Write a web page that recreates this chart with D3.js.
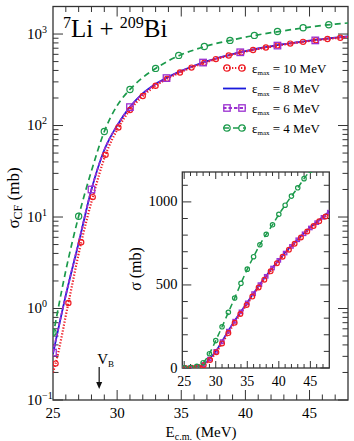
<!DOCTYPE html>
<html>
<head>
<meta charset="utf-8">
<script src="https://cdn.jsdelivr.net/npm/d3@7"></script>
<style>
body { margin: 0; background: #fff; }
svg { display: block; }
</style>
</head>
<body>
<div id="chart"></div>
<script>
// eps_max = 10 MeV : red dotted line, circles on every point but the ends
const red10E = [25.0, 25.2, 26.2, 27.2, 28.1, 29.1, 30.1, 31.0, 32.0, 33.0, 33.9, 34.9, 35.8, 36.8, 37.7, 38.7, 39.7, 40.6, 41.6, 42.5, 43.5, 44.5, 45.5, 46.4, 47.4, 48.0];
const red10S = [0.20, 0.25, 1.15, 5.3, 16.5, 48, 95, 148, 210, 272, 325, 380, 430, 485, 532, 582, 630, 670, 712, 748, 786, 822, 855, 883, 912, 928];

// energy grid shared by the other three curves
const gridE = [25, 26, 27, 28, 29, 30, 31, 32, 33, 34, 35, 36, 37, 38, 39, 40, 41, 42, 43, 44, 45, 46, 47, 48];
// eps_max = 8 MeV : blue solid
const blue8S = [0.32, 1.4, 5.2, 20, 54, 100, 160, 225, 285, 340, 395, 450, 505, 555, 605, 650, 695, 735, 775, 812, 848, 880, 912, 942];
// eps_max = 6 MeV : purple dashed, squares
const purple6S = [0.33, 1.4, 5.3, 20, 54, 100, 159, 222, 282, 338, 392, 448, 502, 552, 602, 648, 692, 732, 772, 808, 843, 875, 907, 938];
const purple6MarkE = [25, 28, 31, 33.85, 36.7, 39.6, 42.5, 45.45];
const purple6MarkS = [0.33, 20, 159, 330, 488, 632, 748, 852];
// eps_max = 4 MeV : green dashed, circles
const green4S = [0.5, 2.6, 10.2, 32, 86, 165, 248, 335, 421, 510, 595, 670, 742, 805, 862, 925, 980, 1035, 1085, 1140, 1190, 1240, 1285, 1320];
const green4MarkE = [25, 27, 29, 31, 33, 34.8, 36.8, 38.8, 40.7, 42.5, 44.5, 46.5];
const green4MarkS = [0.55, 10.2, 86, 248, 421, 584, 732, 852, 966, 1067, 1170, 1265];

const legendEps = ["10", "8", "6", "4"];
const xTickLabels = [25, 30, 35, 40, 45];
const yLogTicks = [0.1, 1, 10, 100, 1000];
const yLogExp = ["-1", "0", "1", "2", "3"];
const insetYTicks = [0, 500, 1000];
const barrierE = 28.6;

const W = 354, H = 441;
const RED = "#ee1c24", BLUE = "#1a1adc", PURPLE = "#9b30d0", GREEN = "#1c9a4c", AXIS = "#333";
const FONT = "'Liberation Serif', 'Times New Roman', serif";

const svg = d3.select("#chart").append("svg")
    .attr("width", W).attr("height", H)
    .attr("font-family", FONT);

const zip = (a, b) => a.map((v, i) => [v, b[i]]);

// ---------- main panel ----------
const x = d3.scaleLinear().domain([25, 48]).range([53, 348]);
const y = d3.scaleLog().domain([0.1, 2000]).range([400, 6.5]);

svg.append("clipPath").attr("id", "clipMain").append("rect")
    .attr("x", 53).attr("y", 6.5).attr("width", 295).attr("height", 393.5);

function ticksFrame(g, xs, ys, xMajor, xMinor, yMajor, yMinor, len) {
    const [x0, x1] = xs.range(), [y0, y1] = ys.range();
    const t = g.append("g").attr("stroke", AXIS).attr("stroke-width", 1);
    xMinor.forEach(v => {
        const L = xMajor.includes(v) ? len.xMaj : len.xMin;
        t.append("line").attr("x1", xs(v)).attr("x2", xs(v)).attr("y1", y0).attr("y2", y0 - L);
        t.append("line").attr("x1", xs(v)).attr("x2", xs(v)).attr("y1", y1).attr("y2", y1 + L);
    });
    yMinor.forEach(v => {
        const L = yMajor.includes(v) ? len.yMaj : len.yMin;
        t.append("line").attr("y1", ys(v)).attr("y2", ys(v)).attr("x1", x0).attr("x2", x0 + L);
        t.append("line").attr("y1", ys(v)).attr("y2", ys(v)).attr("x1", x1).attr("x2", x1 - L);
    });
    g.append("rect").attr("x", x0).attr("y", y1).attr("width", x1 - x0).attr("height", y0 - y1)
        .attr("fill", "none").attr("stroke", AXIS).attr("stroke-width", 1.3);
}

const mainMinorX = d3.range(26, 48);
const mainMinorY = [];
yLogTicks.forEach(d => d3.range(1, 10).forEach(k => { if (d * k <= 2000) mainMinorY.push(d * k); }));

const gMain = svg.append("g");
ticksFrame(gMain, x, y, xTickLabels, mainMinorX, yLogTicks, mainMinorY,
    {xMaj: 10, xMin: 5.5, yMaj: 10, yMin: 5.5});

const line = (xs, ys) => d3.line().x(d => xs(d[0])).y(d => ys(d[1])).curve(d3.curveMonotoneX);

const series = [
    {name: "blue", data: zip(gridE, blue8S), color: BLUE, dash: null, width: 1.8},
    {name: "purple", data: zip(gridE, purple6S), color: PURPLE, dash: "3.5,2", width: 1.8},
    {name: "red", data: zip(red10E, red10S), color: RED, dash: "1.3,1.7", width: 2.2},
    {name: "green", data: zip(gridE, green4S), color: GREEN, dash: "6,4", width: 1.7}
];

const curves = gMain.append("g").attr("clip-path", "url(#clipMain)");
series.forEach(s => {
    curves.append("path").datum(s.data)
        .attr("fill", "none").attr("stroke", s.color).attr("stroke-width", s.width)
        .attr("stroke-dasharray", s.dash)
        .attr("d", line(x, y));
});

function circles(g, pts, xs, ys, r, color) {
    g.selectAll(null).data(pts).join("circle")
        .attr("cx", d => xs(d[0])).attr("cy", d => ys(d[1])).attr("r", r)
        .attr("fill", "none").attr("stroke", color).attr("stroke-width", 1.2);
}
function squares(g, pts, xs, ys, s, color) {
    g.selectAll(null).data(pts).join("rect")
        .attr("x", d => xs(d[0]) - s / 2).attr("y", d => ys(d[1]) - s / 2)
        .attr("width", s).attr("height", s)
        .attr("fill", "none").attr("stroke", color).attr("stroke-width", 1.3);
}

circles(curves.append("g"), zip(red10E, red10S).slice(1, -1), x, y, 2.6, RED);
squares(curves.append("g"), zip(purple6MarkE, purple6MarkS), x, y, 6.5, PURPLE);
circles(curves.append("g"), zip(green4MarkE, green4MarkS), x, y, 3.1, GREEN);

// tick labels
xTickLabels.forEach(v => {
    gMain.append("text").attr("x", x(v)).attr("y", 418).attr("text-anchor", "middle")
        .attr("font-size", 15).text(v);
});
yLogTicks.forEach((v, i) => {
    const t = gMain.append("text").attr("x", 27).attr("y", y(v) + 4.5).attr("font-size", 15);
    t.append("tspan").text("10");
    t.append("tspan").attr("dy", -6).attr("font-size", 10).text(yLogExp[i].replace("-", "\u2212"));
});

// axis titles
const xt = svg.append("text").attr("x", 201).attr("y", 437).attr("text-anchor", "middle").attr("font-size", 15);
xt.append("tspan").text("E");
xt.append("tspan").attr("dy", 3).attr("font-size", 10).text("c.m.");
xt.append("tspan").attr("dy", -3).text(" (MeV)");

const yt = svg.append("text").attr("transform", "translate(19,198) rotate(-90)")
    .attr("text-anchor", "middle").attr("font-size", 17);
yt.append("tspan").text("\u03c3");
yt.append("tspan").attr("dy", 3).attr("font-size", 12).text("CF");
yt.append("tspan").attr("dy", -3).text(" (mb)");

// title
const title = svg.append("text").attr("x", 63).attr("y", 37).attr("font-size", 25);
title.append("tspan").attr("dy", -9).attr("font-size", 16).text("7");
title.append("tspan").attr("dy", 9).text("Li + ");
title.append("tspan").attr("dy", -9).attr("font-size", 16).text("209");
title.append("tspan").attr("dy", 9).text("Bi");

// barrier arrow
const vb = svg.append("g");
vb.append("line").attr("x1", x(barrierE)).attr("x2", x(barrierE)).attr("y1", 367).attr("y2", 383)
    .attr("stroke", "#111").attr("stroke-width", 1.2);
vb.append("path").attr("d", `M${x(barrierE) - 3},382 L${x(barrierE) + 3},382 L${x(barrierE)},389 Z`).attr("fill", "#111");
const vbt = vb.append("text").attr("x", x(barrierE) - 2).attr("y", 364).attr("font-size", 15);
vbt.append("tspan").text("V");
vbt.append("tspan").attr("dy", 3).attr("font-size", 9).text("B");

// legend
const legRows = [
    {color: RED, dash: "1.3,1.7", width: 2.2, mark: "circle"},
    {color: BLUE, dash: null, width: 1.8, mark: null},
    {color: PURPLE, dash: "3.5,2", width: 1.8, mark: "square"},
    {color: GREEN, dash: "6,4", width: 1.7, mark: "circle"}
];
const legY = [68, 88.5, 108, 128];
legRows.forEach((r, i) => {
    const g = svg.append("g").attr("transform", `translate(0,${legY[i]})`);
    g.append("line").attr("x1", 223).attr("x2", 246).attr("y1", 0).attr("y2", 0)
        .attr("stroke", r.color).attr("stroke-width", r.width).attr("stroke-dasharray", r.dash);
    [227, 242].forEach(cx => {
        if (r.mark === "circle") g.append("circle").attr("cx", cx).attr("cy", 0).attr("r", 3.2)
            .attr("fill", "none").attr("stroke", r.color).attr("stroke-width", 1.2);
        if (r.mark === "square") g.append("rect").attr("x", cx - 3.2).attr("y", -3.2).attr("width", 6.4).attr("height", 6.4)
            .attr("fill", "none").attr("stroke", r.color).attr("stroke-width", 1.3);
    });
    const t = g.append("text").attr("x", 252).attr("y", 4.5).attr("font-size", 13);
    t.append("tspan").text("\u03b5");
    t.append("tspan").attr("dy", 2.5).attr("font-size", 7).text("max");
    t.append("tspan").attr("dy", -2.5).text(` = ${legendEps[i]} MeV`);
});

// ---------- inset ----------
const xi = d3.scaleLinear().domain([24.7, 48]).range([182.3, 329.3]);
const yi = d3.scaleLinear().domain([0, 1180]).range([368, 172]);

svg.append("clipPath").attr("id", "clipInset").append("rect")
    .attr("x", 182.3).attr("y", 172).attr("width", 147).attr("height", 196);

const gIn = svg.append("g");
gIn.append("rect").attr("x", 182.3).attr("y", 172).attr("width", 147).attr("height", 196).attr("fill", "#fff");
ticksFrame(gIn, xi, yi, xTickLabels, d3.range(25, 48), insetYTicks, d3.range(0, 1180, 100),
    {xMaj: 7, xMin: 4, yMaj: 9, yMin: 5.5});

const inCurves = gIn.append("g").attr("clip-path", "url(#clipInset)");
series.forEach(s => {
    inCurves.append("path").datum(s.data)
        .attr("fill", "none").attr("stroke", s.color).attr("stroke-width", s.width * 0.9)
        .attr("stroke-dasharray", s.dash)
        .attr("d", line(xi, yi));
});
squares(inCurves.append("g"), zip(gridE, purple6S), xi, yi, 3.4, PURPLE);
circles(inCurves.append("g"), zip(red10E, red10S).slice(1, -1), xi, yi, 2.4, RED);
circles(inCurves.append("g"), zip(gridE, green4S), xi, yi, 2.2, GREEN);

xTickLabels.forEach(v => {
    gIn.append("text").attr("x", xi(v)).attr("y", 386).attr("text-anchor", "middle")
        .attr("font-size", 14).text(v);
});
insetYTicks.forEach(v => {
    gIn.append("text").attr("x", 177.5).attr("y", yi(v) + 4.5).attr("text-anchor", "end")
        .attr("font-size", 14.5).text(v);
});
const yti = gIn.append("text").attr("transform", "translate(141,269) rotate(-90)")
    .attr("text-anchor", "middle").attr("font-size", 16);
yti.append("tspan").text("\u03c3 (mb)");
</script>
</body>
</html>
